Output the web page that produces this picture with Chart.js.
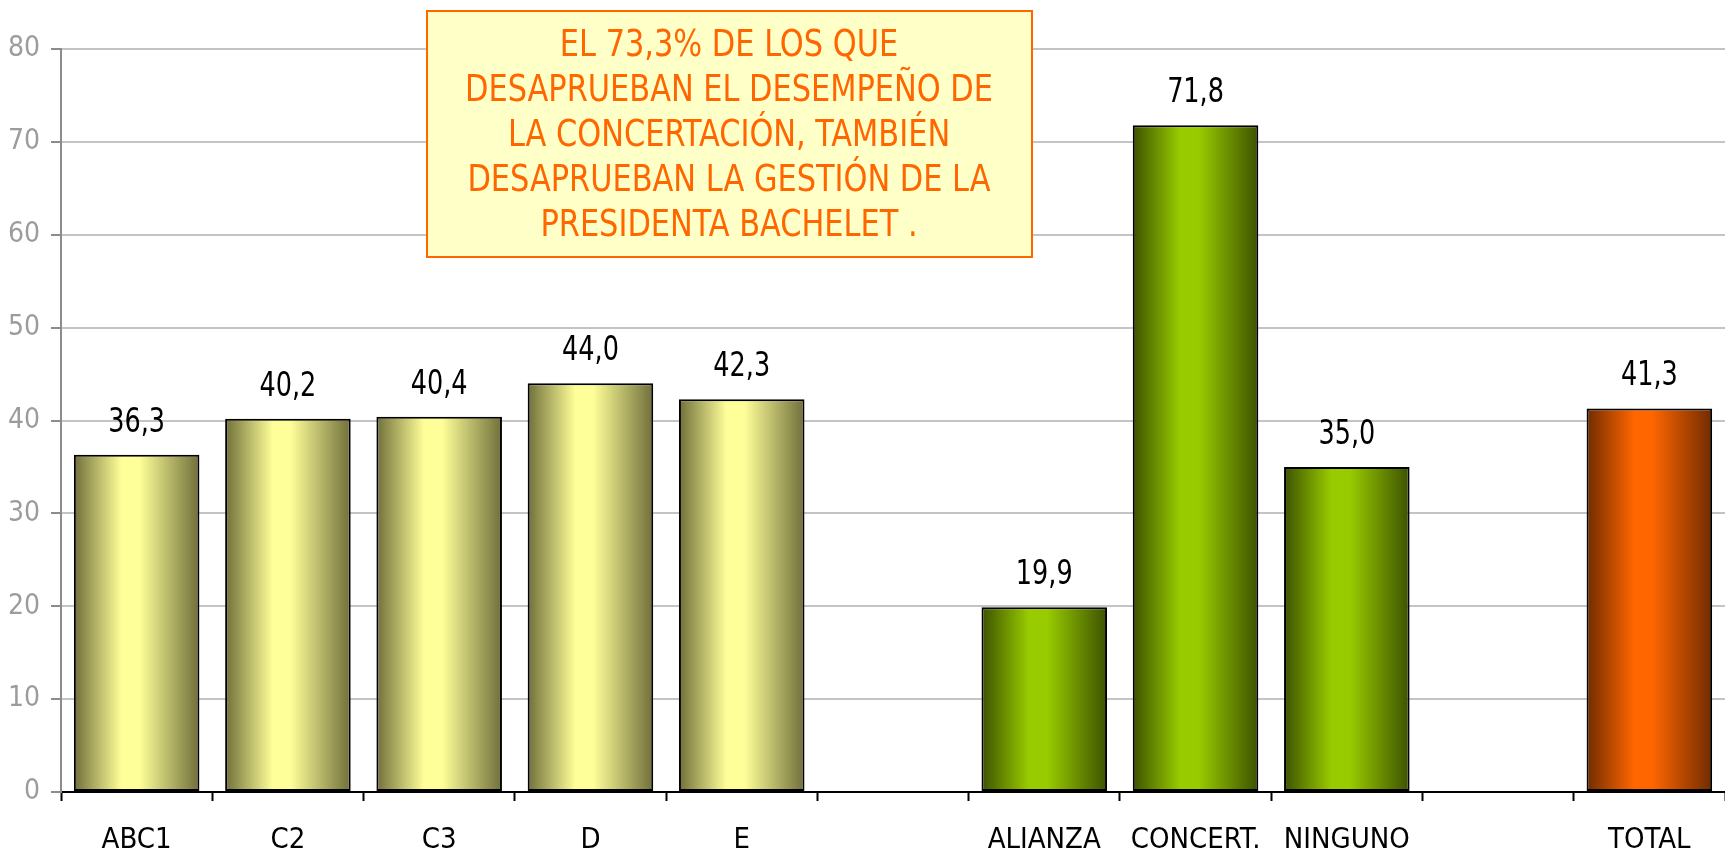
<!DOCTYPE html>
<html>
<head>
<meta charset="utf-8">
<script src="https://cdn.jsdelivr.net/npm/chart.js@4"></script>
<style>
  html, body { margin: 0; padding: 0; background: #fff; }
  #wrap { width: 1725px; height: 849px; }
</style>
</head>
<body>
<div id="wrap"><canvas id="barChart" width="1725" height="849"></canvas></div>
<script>
const categories = ['ABC1', 'C2', 'C3', 'D', 'E', '', 'ALIANZA', 'CONCERT.', 'NINGUNO', '', 'TOTAL'];
const values = [36.3, 40.2, 40.4, 44.0, 42.3, null, 19.9, 71.8, 35.0, null, 41.3];
const groups = ['nse', 'nse', 'nse', 'nse', 'nse', null, 'party', 'party', 'party', null, 'total'];
const yTicks = [0, 10, 20, 30, 40, 50, 60, 70, 80];
const noteLines = [
    'EL 73,3% DE LOS QUE',
    'DESAPRUEBAN EL DESEMPEÑO DE',
    'LA CONCERTACIÓN, TAMBIÉN',
    'DESAPRUEBAN LA GESTIÓN DE LA',
    'PRESIDENTA BACHELET .'
];

const FONT = "'DejaVu Sans Condensed', 'Liberation Sans', sans-serif";
const BAR_PCT = 0.83;

// dark edge / bright centre for the cylinder look
const palette = {
    nse:   { dark: '#6f6f3a', light: '#ffff99' },
    party: { dark: '#3d5200', light: '#99cc00' },
    total: { dark: '#702c00', light: '#ff6600' }
};

function barFill(ctx) {
    const chart = ctx.chart;
    const g = groups[ctx.dataIndex];
    if (!g) return 'transparent';
    const c = palette[g];
    const x = chart.scales.x;
    if (!x || !chart.chartArea) return c.light;
    const cx = x.getPixelForValue(ctx.dataIndex);
    const half = (x.width / categories.length) * BAR_PCT / 2;
    const grad = chart.ctx.createLinearGradient(cx - half, 0, cx + half, 0);
    grad.addColorStop(0, c.dark);
    grad.addColorStop(0.38, c.light);
    grad.addColorStop(0.52, c.light);
    grad.addColorStop(1, c.dark);
    return grad;
}

// text squeezed horizontally, to get the narrow look of the original
function narrowText(ctx, text, x, y, sx) {
    ctx.save();
    ctx.translate(x, y);
    ctx.scale(sx, 1);
    ctx.fillText(text, 0, 0);
    ctx.restore();
}

// value labels above the bars, with a decimal comma
const valueLabels = {
    id: 'valueLabels',
    afterDatasetsDraw(chart) {
        const ctx = chart.ctx;
        const meta = chart.getDatasetMeta(0);
        ctx.save();
        ctx.font = '33px ' + FONT;
        ctx.fillStyle = '#000';
        ctx.textAlign = 'center';
        ctx.textBaseline = 'alphabetic';
        meta.data.forEach((el, i) => {
            if (values[i] == null) return;
            narrowText(ctx, values[i].toFixed(1).replace('.', ','), el.x, el.y - 23, 0.86);
        });
        ctx.restore();
    }
};

// the yellow note box
const noteBox = {
    id: 'noteBox',
    afterDraw(chart) {
        const ctx = chart.ctx;
        const left = 427, top = 11, w = 605, h = 246;
        ctx.save();
        ctx.fillStyle = '#ffffc8';
        ctx.fillRect(left, top, w, h);
        ctx.strokeStyle = '#ff6600';
        ctx.lineWidth = 2;
        ctx.strokeRect(left, top, w, h);
        ctx.fillStyle = '#ff6600';
        ctx.font = '38px ' + FONT;
        ctx.textAlign = 'center';
        ctx.textBaseline = 'middle';
        const sx = 528 / ctx.measureText(noteLines[1]).width;
        noteLines.forEach((line, i) => {
            narrowText(ctx, line, 729, 46 + i * 45, sx);
        });
        ctx.restore();
    }
};

new Chart(document.getElementById('barChart'), {
    type: 'bar',
    data: {
        labels: categories,
        datasets: [{
            data: values,
            backgroundColor: barFill,
            borderColor: '#000',
            borderWidth: 2,
            borderSkipped: false,
            barPercentage: BAR_PCT,
            categoryPercentage: 1
        }]
    },
    options: {
        responsive: false,
        animation: false,
        events: [],
        layout: { padding: { left: 0, right: 0, top: 49, bottom: 0 } },
        plugins: {
            legend: { display: false },
            tooltip: { enabled: false }
        },
        scales: {
            x: {
                offset: true,
                afterFit(scale) { scale.height = 57; },
                grid: {
                    offset: true,
                    drawOnChartArea: false,
                    tickLength: 9,
                    tickColor: '#000',
                    tickWidth: 2
                },
                border: { color: '#000', width: 2 },
                ticks: {
                    color: '#000',
                    font: { family: FONT, size: 29 },
                    padding: 22,
                    maxRotation: 0,
                    autoSkip: false
                }
            },
            y: {
                min: 0,
                max: 80,
                afterFit(scale) { scale.width = 61; },
                afterBuildTicks(scale) {
                    scale.ticks = yTicks.map(v => ({ value: v }));
                },
                grid: {
                    color: '#c4c4c4',
                    lineWidth: 2,
                    tickLength: 10,
                    tickColor: '#8c8c8c'
                },
                border: { color: '#8c8c8c', width: 2 },
                ticks: {
                    color: '#9c9c9c',
                    font: { family: FONT, size: 28 },
                    padding: 11
                }
            }
        }
    },
    plugins: [valueLabels, noteBox]
});
</script>
</body>
</html>
